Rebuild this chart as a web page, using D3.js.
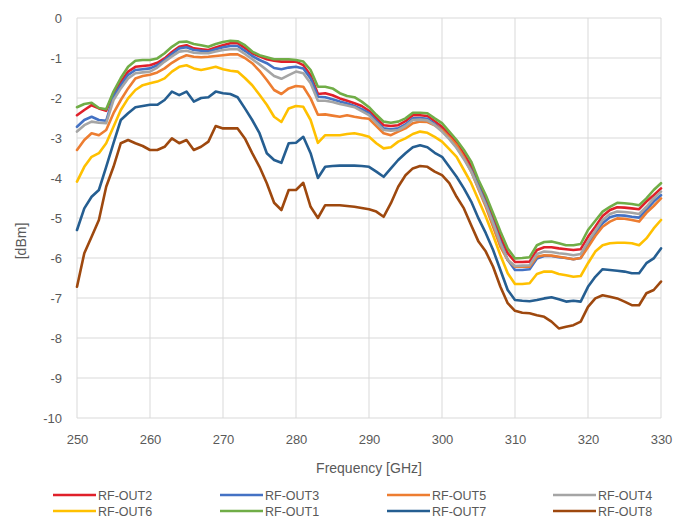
<!DOCTYPE html>
<html><head><meta charset="utf-8">
<script src="https://cdn.jsdelivr.net/npm/d3@7"></script>
<style>body{margin:0;background:#fff}svg{display:block}</style>
</head><body>
<script>
const freqs = [250,251,252,253,254,255,256,257,258,259,260,261,262,263,264,265,266,267,268,269,270,271,272,273,274,275,276,277,278,279,280,281,282,283,284,285,286,287,288,289,290,291,292,293,294,295,296,297,298,299,300,301,302,303,304,305,306,307,308,309,310,311,312,313,314,315,316,317,318,319,320,321,322,323,324,325,326,327,328,329,330];
const xTicks = [250,260,270,280,290,300,310,320,330];
const yTicks = [0,-1,-2,-3,-4,-5,-6,-7,-8,-9,-10];
const seriesNames = ["RF-OUT2","RF-OUT3","RF-OUT5","RF-OUT4","RF-OUT6","RF-OUT1","RF-OUT7","RF-OUT8"];
const seriesColors = ["#e0202a","#4472c4","#ed7d31","#a5a5a5","#ffc000","#70ad47","#255e91","#9e480e"];
const out2 = [-2.43,-2.3,-2.18,-2.26,-2.32,-1.88,-1.6,-1.34,-1.22,-1.2,-1.18,-1.12,-1.01,-0.85,-0.72,-0.68,-0.76,-0.78,-0.8,-0.74,-0.68,-0.63,-0.63,-0.75,-0.88,-0.96,-1.03,-1.07,-1.09,-1.09,-1.09,-1.18,-1.43,-1.9,-1.88,-1.93,-2.01,-2.07,-2.13,-2.2,-2.32,-2.5,-2.68,-2.7,-2.68,-2.58,-2.43,-2.43,-2.45,-2.58,-2.72,-2.92,-3.13,-3.4,-3.7,-4.12,-4.53,-5.0,-5.47,-5.88,-6.1,-6.1,-6.09,-5.8,-5.73,-5.73,-5.76,-5.78,-5.8,-5.78,-5.47,-5.22,-4.95,-4.8,-4.73,-4.74,-4.76,-4.78,-4.59,-4.43,-4.26];
const out3 = [-2.72,-2.55,-2.47,-2.55,-2.57,-1.97,-1.68,-1.42,-1.3,-1.28,-1.26,-1.18,-1.05,-0.9,-0.76,-0.73,-0.8,-0.82,-0.84,-0.78,-0.73,-0.7,-0.7,-0.82,-0.95,-1.05,-1.13,-1.25,-1.28,-1.24,-1.22,-1.26,-1.51,-1.97,-1.98,-2.03,-2.09,-2.14,-2.2,-2.28,-2.38,-2.58,-2.76,-2.78,-2.76,-2.66,-2.51,-2.5,-2.52,-2.65,-2.8,-3.0,-3.23,-3.5,-3.8,-4.2,-4.63,-5.1,-5.59,-6.05,-6.3,-6.3,-6.28,-6.01,-5.95,-5.95,-5.98,-6.0,-6.03,-6.0,-5.68,-5.38,-5.13,-4.98,-4.93,-4.94,-4.97,-4.99,-4.8,-4.59,-4.43];
const out5 = [-3.3,-3.05,-2.88,-2.93,-2.8,-2.38,-2.05,-1.76,-1.51,-1.45,-1.42,-1.36,-1.26,-1.12,-1.01,-0.93,-0.97,-0.98,-0.97,-0.95,-0.93,-0.91,-0.91,-1.0,-1.13,-1.32,-1.55,-1.8,-1.9,-1.76,-1.7,-1.72,-2.01,-2.42,-2.41,-2.44,-2.47,-2.43,-2.47,-2.5,-2.52,-2.7,-2.88,-2.93,-2.84,-2.76,-2.63,-2.59,-2.6,-2.68,-2.8,-2.98,-3.18,-3.48,-3.84,-4.28,-4.72,-5.22,-5.72,-6.05,-6.22,-6.22,-6.22,-5.97,-5.93,-5.94,-5.97,-6.0,-6.03,-6.0,-5.73,-5.45,-5.22,-5.09,-5.01,-5.02,-5.05,-5.09,-4.87,-4.7,-4.51];
const out4 = [-2.84,-2.68,-2.59,-2.62,-2.63,-2.05,-1.76,-1.51,-1.38,-1.36,-1.34,-1.24,-1.09,-0.96,-0.84,-0.82,-0.87,-0.88,-0.88,-0.84,-0.8,-0.78,-0.78,-0.9,-1.03,-1.16,-1.3,-1.45,-1.52,-1.43,-1.34,-1.38,-1.63,-2.07,-2.07,-2.1,-2.15,-2.19,-2.23,-2.33,-2.43,-2.62,-2.8,-2.82,-2.8,-2.7,-2.55,-2.54,-2.56,-2.68,-2.84,-3.03,-3.25,-3.53,-3.84,-4.25,-4.67,-5.13,-5.63,-6.05,-6.2,-6.19,-6.18,-5.9,-5.84,-5.85,-5.88,-5.9,-5.93,-5.9,-5.59,-5.32,-5.05,-4.9,-4.84,-4.85,-4.87,-4.9,-4.72,-4.51,-4.34];
const out6 = [-4.09,-3.72,-3.47,-3.38,-3.13,-2.72,-2.3,-2.01,-1.8,-1.68,-1.63,-1.59,-1.51,-1.34,-1.22,-1.18,-1.26,-1.3,-1.26,-1.22,-1.28,-1.32,-1.34,-1.5,-1.68,-1.92,-2.17,-2.47,-2.6,-2.26,-2.2,-2.22,-2.55,-3.12,-2.93,-2.93,-2.93,-2.9,-2.88,-2.92,-2.97,-3.13,-3.26,-3.23,-3.09,-3.01,-2.9,-2.84,-2.87,-2.97,-3.09,-3.28,-3.47,-3.8,-4.13,-4.55,-4.97,-5.43,-5.93,-6.38,-6.65,-6.65,-6.63,-6.4,-6.34,-6.34,-6.4,-6.43,-6.47,-6.45,-6.13,-5.84,-5.68,-5.63,-5.62,-5.62,-5.63,-5.68,-5.51,-5.26,-5.05];
const out1 = [-2.23,-2.15,-2.12,-2.25,-2.28,-1.84,-1.5,-1.22,-1.07,-1.05,-1.05,-1.01,-0.88,-0.72,-0.6,-0.59,-0.65,-0.68,-0.72,-0.65,-0.6,-0.57,-0.58,-0.68,-0.84,-0.93,-0.98,-1.03,-1.03,-1.03,-1.05,-1.09,-1.3,-1.72,-1.72,-1.76,-1.88,-1.95,-1.98,-2.09,-2.23,-2.42,-2.59,-2.62,-2.59,-2.51,-2.37,-2.37,-2.38,-2.51,-2.63,-2.84,-3.05,-3.3,-3.59,-4.05,-4.43,-4.88,-5.34,-5.76,-6.01,-6.0,-5.98,-5.68,-5.6,-5.59,-5.63,-5.68,-5.68,-5.65,-5.3,-5.07,-4.84,-4.72,-4.62,-4.63,-4.65,-4.68,-4.51,-4.3,-4.13];
const out7 = [-5.3,-4.76,-4.47,-4.3,-3.72,-3.13,-2.55,-2.38,-2.23,-2.2,-2.17,-2.17,-2.05,-1.84,-1.93,-1.84,-2.09,-2.0,-1.98,-1.84,-1.88,-1.9,-1.98,-2.26,-2.55,-2.88,-3.38,-3.55,-3.62,-3.13,-3.12,-2.97,-3.38,-4.0,-3.72,-3.7,-3.69,-3.69,-3.69,-3.7,-3.72,-3.84,-3.97,-3.76,-3.55,-3.38,-3.23,-3.18,-3.23,-3.37,-3.47,-3.72,-3.97,-4.26,-4.59,-5.01,-5.38,-5.8,-6.3,-6.8,-7.05,-7.07,-7.08,-7.05,-7.01,-6.98,-7.03,-7.09,-7.07,-7.09,-6.72,-6.47,-6.28,-6.3,-6.32,-6.34,-6.38,-6.38,-6.13,-6.01,-5.76];
const out8 = [-6.72,-5.88,-5.47,-5.05,-4.22,-3.72,-3.13,-3.05,-3.13,-3.2,-3.3,-3.3,-3.22,-3.01,-3.13,-3.05,-3.3,-3.22,-3.09,-2.7,-2.76,-2.76,-2.76,-3.01,-3.38,-3.72,-4.13,-4.62,-4.8,-4.3,-4.3,-4.12,-4.72,-5.0,-4.68,-4.68,-4.68,-4.7,-4.72,-4.75,-4.78,-4.84,-4.97,-4.63,-4.22,-3.93,-3.76,-3.7,-3.72,-3.84,-3.93,-4.13,-4.47,-4.76,-5.18,-5.59,-5.84,-6.22,-6.72,-7.13,-7.32,-7.37,-7.38,-7.43,-7.47,-7.59,-7.76,-7.72,-7.68,-7.59,-7.22,-7.01,-6.93,-6.97,-7.01,-7.09,-7.18,-7.18,-6.88,-6.8,-6.59];
const seriesValues = [out2,out3,out5,out4,out6,out1,out7,out8];

const W = 677, H = 522;
const m = {left:77, right:16, top:18, bottom:104};
const svg = d3.select("body").append("svg").attr("width",W).attr("height",H)
  .style("font-family","'Liberation Sans', Arial, sans-serif");
const x = d3.scaleLinear().domain([250,330]).range([m.left, W-m.right]);
const y = d3.scaleLinear().domain([-10,0]).range([H-m.bottom, m.top]);

// gridlines
const g = svg.append("g");
g.selectAll(".hg").data(yTicks).join("line")
  .attr("x1",x(250)).attr("x2",x(330)).attr("y1",d=>y(d)).attr("y2",d=>y(d))
  .attr("stroke","#d9d9d9").attr("stroke-width",1);
g.selectAll(".vg").data(xTicks).join("line")
  .attr("y1",y(0)).attr("y2",y(-10)).attr("x1",d=>x(d)).attr("x2",d=>x(d))
  .attr("stroke","#d9d9d9").attr("stroke-width",1);

// axes labels via d3 axes (plain hyphen-minus as in the reference)
const fmt = d => String(d);
const yAxis = svg.append("g").attr("transform",`translate(${x(250)},0)`)
  .call(d3.axisLeft(y).tickValues(yTicks).tickSize(0).tickPadding(15).tickFormat(fmt));
yAxis.select(".domain").remove();
yAxis.selectAll("text").attr("fill","#595959").style("font-size","13px");
const xAxis = svg.append("g").attr("transform",`translate(0,${y(-10)})`)
  .call(d3.axisBottom(x).tickValues(xTicks).tickSize(0).tickPadding(17).tickFormat(fmt));
xAxis.select(".domain").remove();
xAxis.selectAll("text").attr("fill","#595959").style("font-size","13px");

// series
const line = d3.line().x((d,i)=>x(freqs[i])).y(d=>y(d)).curve(d3.curveLinear);
seriesValues.forEach((vals,k)=>{
  svg.append("path").datum(vals).attr("d",line).attr("fill","none")
    .attr("stroke",seriesColors[k]).attr("stroke-width",2.6)
    .attr("stroke-linejoin","round").attr("stroke-linecap","round");
});

// titles
svg.append("text").attr("x",369).attr("y",473).attr("text-anchor","middle")
  .attr("fill","#595959").style("font-size","14px").text("Frequency [GHz]");
svg.append("text").attr("transform","translate(26,241) rotate(-90)").attr("text-anchor","middle")
  .attr("fill","#595959").style("font-size","14px").text("[dBm]");

// legend
const colX = [53,220,387,553];
const rowY = [495,511];
const lg = svg.append("g");
seriesNames.forEach((n,k)=>{
  const cx = colX[k%4], cy = rowY[Math.floor(k/4)];
  lg.append("line").attr("x1",cx).attr("x2",cx+43).attr("y1",cy).attr("y2",cy)
    .attr("stroke",seriesColors[k]).attr("stroke-width",2.6);
  lg.append("text").attr("x",cx+45).attr("y",cy+4.5).attr("fill","#595959")
    .style("font-size","12.5px").text(n);
});
</script>
</body></html>
